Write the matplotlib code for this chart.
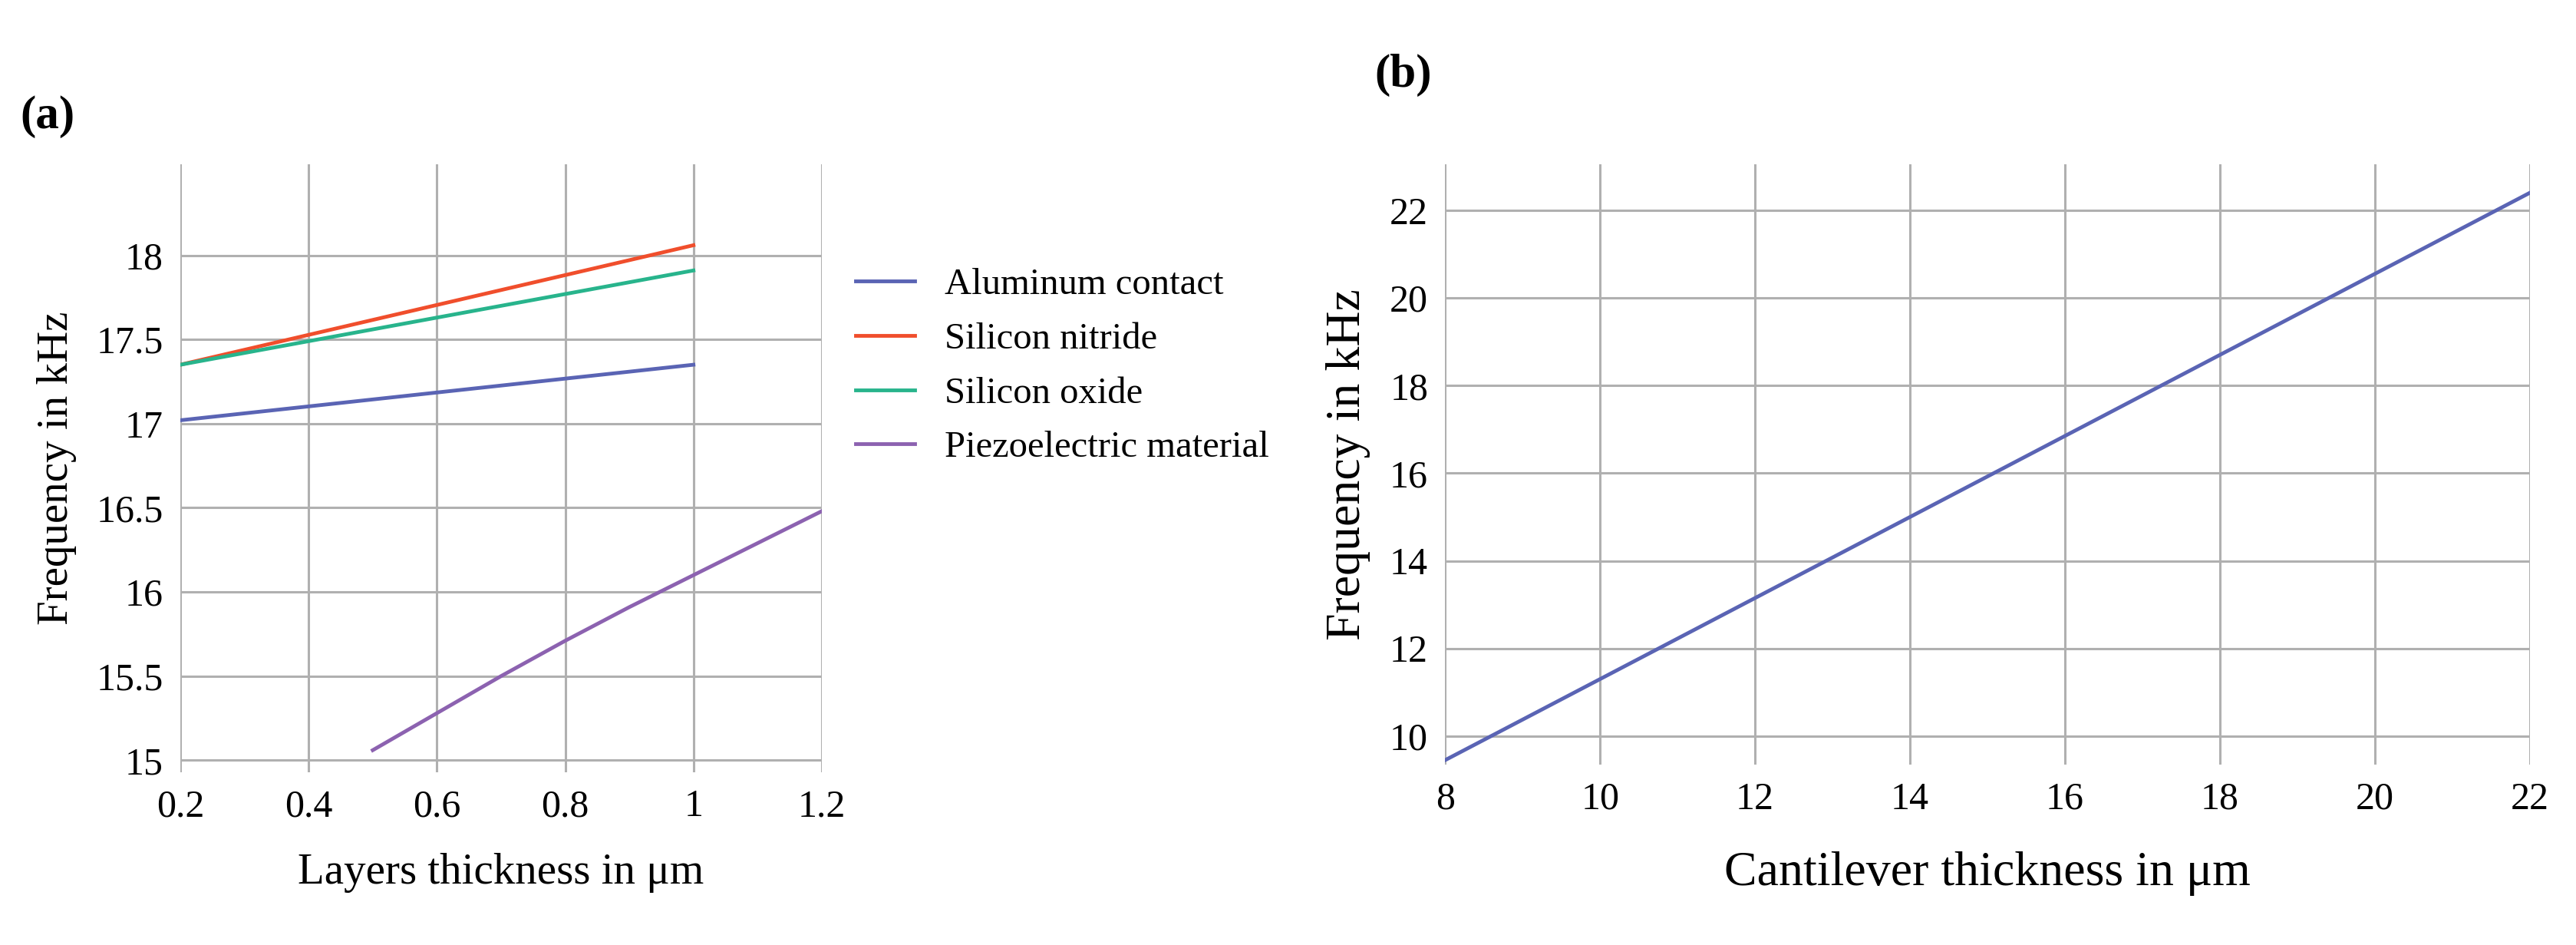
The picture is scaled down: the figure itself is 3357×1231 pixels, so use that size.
import matplotlib
matplotlib.use("Agg")
import matplotlib.pyplot as plt

plt.rcParams['font.family'] = ['Liberation Serif', 'DejaVu Serif']

x_al = [0.2, 1.0]; y_al = [17.02, 17.35]
x_sn = [0.2, 1.0]; y_sn = [17.35, 18.06]
x_so = [0.2, 1.0]; y_so = [17.35, 17.91]
x_pz = [0.5, 0.6, 0.7, 0.8, 0.9, 1.0, 1.1, 1.2]
y_pz = [15.06, 15.28, 15.50, 15.71, 15.91, 16.10, 16.29, 16.48]
names = ["Aluminum contact", "Silicon nitride", "Silicon oxide", "Piezoelectric material"]
colors = ["#5a64b4", "#f04e2c", "#28b48c", "#8c62b0"]

x_b = [8, 22]; y_b = [9.45, 22.4]

fig = plt.figure(figsize=(33.57, 12.31), dpi=100)
ax1 = fig.add_axes([0.070, 0.183, 0.249, 0.643])
for (xs, ys), n, c in zip([(x_al, y_al), (x_sn, y_sn), (x_so, y_so), (x_pz, y_pz)], names, colors):
    ax1.plot(xs, ys, color=c, lw=3.5, label=n)
ax1.set_xlim(0.2, 1.2); ax1.set_ylim(14.93, 18.54)
ax1.set_xticks([0.2, 0.4, 0.6, 0.8, 1.0, 1.2]); ax1.set_xticklabels(["0.2", "0.4", "0.6", "0.8", "1", "1.2"])
ax1.set_yticks([15, 15.5, 16, 16.5, 17, 17.5, 18]); ax1.set_yticklabels(["15", "15.5", "16", "16.5", "17", "17.5", "18"])
ax1.set_xlabel("Layers thickness in μm", fontsize=41, labelpad=26)
ax1.set_ylabel("Frequency in kHz", fontsize=41, labelpad=18)
ax1.legend(loc='upper left', bbox_to_anchor=(1.0, 0.885), frameon=False, fontsize=35, handlelength=1.6, labelspacing=0.55)
ax1.text(-0.25, 1.06, "(a)", transform=ax1.transAxes, fontsize=44, fontweight='bold')

ax2 = fig.add_axes([0.561, 0.191, 0.421, 0.635])
ax2.plot(x_b, y_b, color=colors[0], lw=3.5)
ax2.set_xlim(8, 22); ax2.set_ylim(9.35, 23.05)
ax2.set_xticks(range(8, 23, 2)); ax2.set_yticks(range(10, 23, 2))
ax2.set_xlabel("Cantilever thickness in μm", fontsize=46, labelpad=32)
ax2.set_ylabel("Frequency in kHz", fontsize=46, labelpad=18)
ax2.text(-0.065, 1.13, "(b)", transform=ax2.transAxes, fontsize=44, fontweight='bold')

for ax in (ax1, ax2):
    for s in ax.spines.values():
        s.set_visible(False)
    ax.grid(True, color="#b0b0b0", lw=2.2)
    ax.set_axisbelow(True)
    ax.tick_params(length=0, labelsize=36, pad=16)

fig.savefig("out.png", dpi=100)
